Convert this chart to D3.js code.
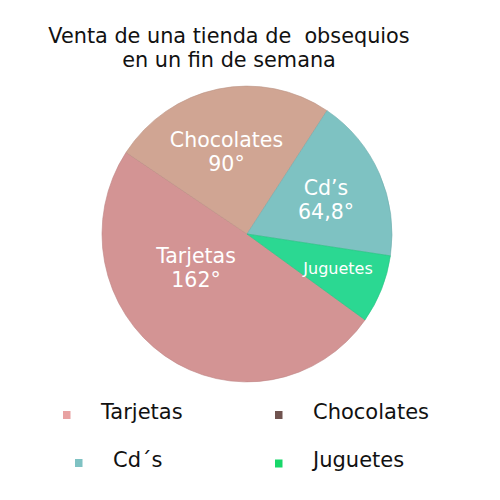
<!DOCTYPE html>
<html>
<head>
<meta charset="utf-8">
<script src="https://cdn.jsdelivr.net/npm/d3@7"></script>
<style>
  html, body { margin: 0; padding: 0; background: #fff; }
  svg { display: block; font-family: "DejaVu Sans", Verdana, sans-serif; }
</style>
</head>
<body>
<svg id="chart" width="500" height="500"></svg>
<script>
// Data
const categories = ["Tarjetas", "Chocolates", "Cd\u2019s", "Juguetes"];
const legendLabels = ["Tarjetas", "Chocolates", "Cd\u00b4s", "Juguetes"];
const sliceDegrees = [178, 90, 65, 27];          // drawn angular size of each slice
const labelLine1 = ["Tarjetas", "Chocolates", "Cd\u2019s", "Juguetes"];
const labelLine2 = ["162°", "90°", "64,8°", ""];
const sliceColors = ["#d39494", "#d0a593", "#7ec2c2", "#2bd892"];
const legendColors = ["#e8a2a2", "#705450", "#7fc2c3", "#18d76a"];
const titleLines = ["Venta de una tienda de\u00a0 obsequios", "en un fin de semana"];

const svg = d3.select("#chart");

// Title
svg.append("g").selectAll("text").data(titleLines).join("text")
  .attr("x", 229).attr("y", (d, i) => 43 + i * 24)
  .attr("text-anchor", "middle").attr("font-size", 20.8).attr("fill", "#111")
  .text(d => d);

// Pie
const cx = 247, cy = 234, r = 145;
const g = svg.append("g").attr("transform", `translate(${cx},${cy}) scale(1,1.02)`);
const deg = Math.PI / 180;
const pie = d3.pie().sort(null).value(d => d)
  .startAngle(125.5 * deg).endAngle((125.5 + 360) * deg);
const arcs = pie(sliceDegrees);
const arc = d3.arc().innerRadius(0).outerRadius(r);

g.selectAll("path").data(arcs).join("path")
  .attr("d", arc)
  .attr("fill", (d, i) => sliceColors[i])
  .attr("stroke", (d, i) => d3.color(sliceColors[i]).darker(0.3))
  .attr("stroke-width", 0.6);

// Slice labels
const labelPos = [
  {x: 196, y: 262.5, size: 20.5},
  {x: 226.5, y: 146.5, size: 20.5},
  {x: 326, y: 195, size: 20.5},
  {x: 338, y: 274, size: 16}
];
const lg = svg.append("g");
arcs.forEach((a, i) => {
  const p = labelPos[i];
  const t = lg.append("text")
    .attr("x", p.x).attr("y", p.y)
    .attr("text-anchor", "middle").attr("fill", "#fff")
    .attr("font-size", p.size);
  t.append("tspan").attr("x", p.x).text(labelLine1[i]);
  if (labelLine2[i]) t.append("tspan").attr("x", p.x).attr("dy", 24).text(labelLine2[i]);
});

// Legend
const legendPos = [
  {mx: 63, my: 411, tx: 101, ty: 419},
  {mx: 275, my: 411, tx: 313, ty: 419},
  {mx: 75, my: 459, tx: 113, ty: 467},
  {mx: 275, my: 459.5, tx: 313, ty: 467}
];
const leg = svg.append("g").selectAll("g").data(legendLabels).join("g");
leg.append("rect")
  .attr("x", (d, i) => legendPos[i].mx).attr("y", (d, i) => legendPos[i].my)
  .attr("width", 7.5).attr("height", 8)
  .attr("fill", (d, i) => legendColors[i]);
leg.append("text")
  .attr("x", (d, i) => legendPos[i].tx).attr("y", (d, i) => legendPos[i].ty)
  .attr("font-size", 21).attr("fill", "#111")
  .text(d => d);
</script>
</body>
</html>
